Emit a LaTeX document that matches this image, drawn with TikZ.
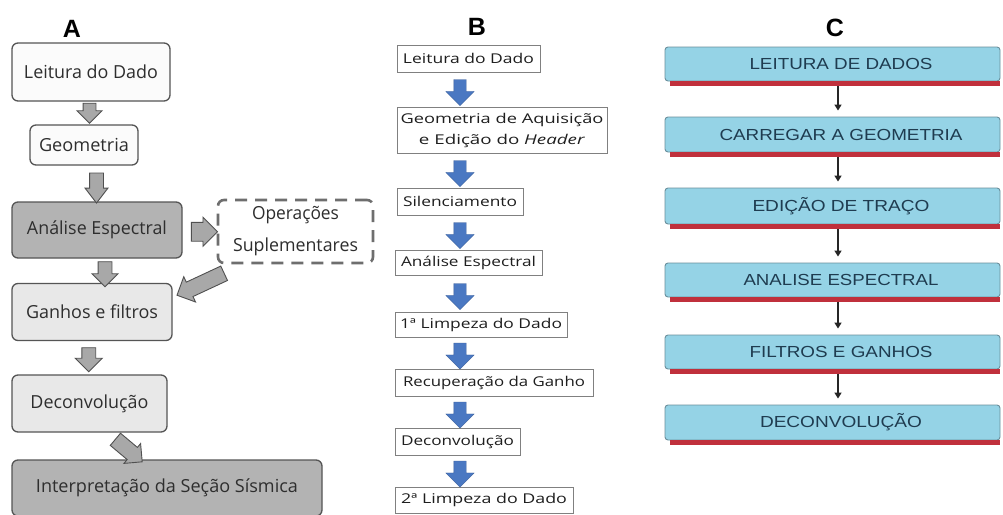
\documentclass[tikz,border=0pt]{standalone}
\usepackage{fontspec}
\usepackage{graphicx}
\usetikzlibrary{shapes.arrows,calc,arrows.meta}
\newfontfamily\afont{Open Sans}
\newfontfamily\cfont{Liberation Sans}
\newcommand{\fw}[2]{\resizebox{#1pt}{\height}{#2}}
\definecolor{aborder}{HTML}{555555}
\definecolor{atext}{HTML}{2E2E2E}
\definecolor{adark}{HTML}{B3B3B3}
\definecolor{alight}{HTML}{E8E8E8}
\definecolor{awhite}{HTML}{FBFBFB}
\definecolor{gfill}{HTML}{A8A8A8}
\definecolor{gdraw}{HTML}{505050}
\definecolor{bborder}{HTML}{808080}
\definecolor{btext}{HTML}{1E1E1E}
\definecolor{bblue}{HTML}{4A78C2}
\definecolor{cfill}{HTML}{95D3E6}
\definecolor{cdraw}{HTML}{6A8F9C}
\definecolor{ctext}{HTML}{1F3C50}
\definecolor{cred}{HTML}{C0303C}
\begin{document}
\begin{tikzpicture}[x=1pt,y=-1pt,
  title/.style={font=\cfont\bfseries\fontsize{25}{28}\selectfont, text=black, inner sep=0pt},
  abox/.style={rectangle, rounded corners=6pt, draw=aborder, line width=1.3pt, inner sep=0pt,
    text=atext, font=\afont\fontsize{18}{22}\selectfont},
  garrow/.style={single arrow, draw=gdraw, fill=gfill, line width=0.9pt, inner xsep=0pt},
  bbox/.style={rectangle, draw=bborder, line width=0.8pt, fill=white, inner sep=0pt,
    text=btext, font=\afont\fontsize{13.5}{21}\selectfont},
  barrow/.style={single arrow, fill=bblue, draw=bblue!80!black, line width=0.3pt, inner xsep=0pt,
    inner ysep=6pt, single arrow head extend=8pt, minimum height=26pt},
  cbox/.style={rectangle, rounded corners=3pt, fill=cfill, draw=cdraw, line width=0.9pt, inner sep=0pt,
    minimum width=335pt, text=ctext, font=\cfont\fontsize{16}{19}\selectfont},
  carrow/.style={line width=2.2pt, draw=black!85, -{Triangle[length=6pt,width=7pt]}}
]
\useasboundingbox (0,0) rectangle (1003,514);
\fill[white] (0,0) rectangle (1003,514);

% ---------- Panel A ----------
\node[title] (tA) at (72,29) {A};
\node[abox, fill=awhite, minimum width=158pt, minimum height=58pt] (leit) at (91,72) {\fw{134}{Leitura do Dado}};
\node[abox, fill=awhite, minimum width=108pt, minimum height=40pt] (geo) at (84,145) {\fw{90}{Geometria}};
\node[abox, fill=adark, minimum width=170pt, minimum height=56pt] (ana) at (97,230) {\fw{140}{Análise Espectral}};
\node[abox, fill=white, draw=aborder!85, line width=2.6pt, dash pattern=on 12pt off 8pt,
      minimum width=155pt, minimum height=63pt, align=center, font=\afont\fontsize{18}{32}\selectfont] (ops) at (295.5,231.5)
      {\fw{87}{Operações}\\\fw{125}{Suplementares}};
\node[abox, fill=alight, minimum width=160pt, minimum height=57pt] (gan) at (92,312) {\fw{132}{Ganhos e filtros}};
\node[abox, fill=alight, minimum width=155pt, minimum height=57pt] (dec) at (89.5,403.5) {\fw{118}{Deconvolução}};
\node[abox, fill=adark, minimum width=310pt, minimum height=56pt] (int) at (167,488) {\fw{262}{Interpretação da Seção Sísmica}};

\node[garrow, rotate=-90, minimum height=20pt, inner ysep=6pt, single arrow head extend=6pt]
  at ($(leit.south)!0.5!(geo.north)+(2,-3)$) {};
\node[garrow, rotate=-90, minimum height=30pt, inner ysep=6.5pt, single arrow head extend=4.5pt, single arrow tip angle=75]
  at ($(geo.south)!0.5!(ana.north)+(6,0)$) {};
\node[garrow, rotate=-90, minimum height=25pt, inner ysep=6.5pt, single arrow head extend=6pt]
  at ($(ana.south)!0.5!(gan.north)+(10.5,0)$) {};
\node[garrow, minimum height=26pt, inner ysep=9pt, single arrow head extend=5pt]
  at ($(ana.east)!0.5!(ops.west)+(0,1)$) {};
\node[garrow, rotate=205, minimum height=52pt, inner ysep=7.5pt, single arrow head extend=6pt]
  at ($(ops.south west)!0.5!(gan.north east)+(9.5,9)$) {};
\node[garrow, rotate=-90, minimum height=24pt, inner ysep=6.5pt, single arrow head extend=6.5pt]
  at ($(gan.south)!0.5!(dec.north)+(-2,-1.5)$) {};
\node[garrow, rotate=-40, minimum height=35pt, inner ysep=7.5pt, single arrow head extend=5pt]
  at ($(dec.south)!0.5!(int.north)+(-2.5,2)$) {};

% ---------- Panel B ----------
\node[title] (tB) at (477,27) {B};
\coordinate (bx) at (460,0);
\node[bbox, minimum width=143pt, minimum height=27pt] (b1) at (468.5,58.5) {\fw{131}{Leitura do Dado}};
\node[bbox, minimum width=210pt, minimum height=46pt, align=center] (b2) at (502,130)
  {\fw{203}{Geometria de Aquisição}\\\fw{166}{e Edição do \textit{Header}}};
\node[bbox, minimum width=126pt, minimum height=27pt] (b3) at (460,201.5) {\fw{114}{Silenciamento}};
\node[bbox, minimum width=147pt, minimum height=25pt] (b4) at (468.5,262.5) {\fw{135}{Análise Espectral}};
\node[bbox, minimum width=172pt, minimum height=25pt] (b5) at (481,324.5) {\fw{162}{1ª Limpeza do Dado}};
\node[bbox, minimum width=198pt, minimum height=27pt] (b6) at (494,382.5) {\fw{182}{Recuperação da Ganho}};
\node[bbox, minimum width=125pt, minimum height=27pt] (b7) at (457.5,441.5) {\fw{113}{Deconvolução}};
\node[bbox, minimum width=178pt, minimum height=26pt] (b8) at (484,500) {\fw{166}{2ª Limpeza do Dado}};

\foreach \u/\v in {b1/b2,b2/b3,b3/b4,b4/b5,b5/b6,b6/b7,b7/b8}
  \node[barrow, rotate=-90] at ($(bx |- \u.south)!0.5!(bx |- \v.north)$) {};

% ---------- Panel C ----------
\node[title] (tC) at (835,28) {C};
\node[cbox, minimum height=34pt] (c1) at (832.5,64) {\hspace*{17pt}\fw{183}{LEITURA DE DADOS}};
\node[cbox, minimum height=35pt] (c2) at (832.5,134.5) {\hspace*{17pt}\fw{243}{CARREGAR A GEOMETRIA}};
\node[cbox, minimum height=36pt] (c3) at (832.5,206) {\hspace*{17pt}\fw{177}{EDIÇÃO DE TRAÇO}};
\node[cbox, minimum height=34pt] (c4) at (832.5,280) {\hspace*{17pt}\fw{195}{ANALISE ESPECTRAL}};
\node[cbox, minimum height=34pt] (c5) at (832.5,352) {\hspace*{17pt}\fw{183}{FILTROS E GANHOS}};
\node[cbox, minimum height=35pt] (c6) at (832.5,422.5) {\hspace*{17pt}\fw{162}{DECONVOLUÇÃO}};

\foreach \c in {c1,c2,c3,c4,c5,c6}
  \fill[cred] ([xshift=5pt]\c.south west) rectangle ([yshift=-4.5pt]\c.south east);

\foreach \u/\v in {c1/c2,c2/c3,c3/c4,c4/c5,c5/c6}
  \draw[carrow] ($(\u.south)+(5.5,5)$) -- ($(\v.north)+(5.5,-6)$);
\end{tikzpicture}
\end{document}
